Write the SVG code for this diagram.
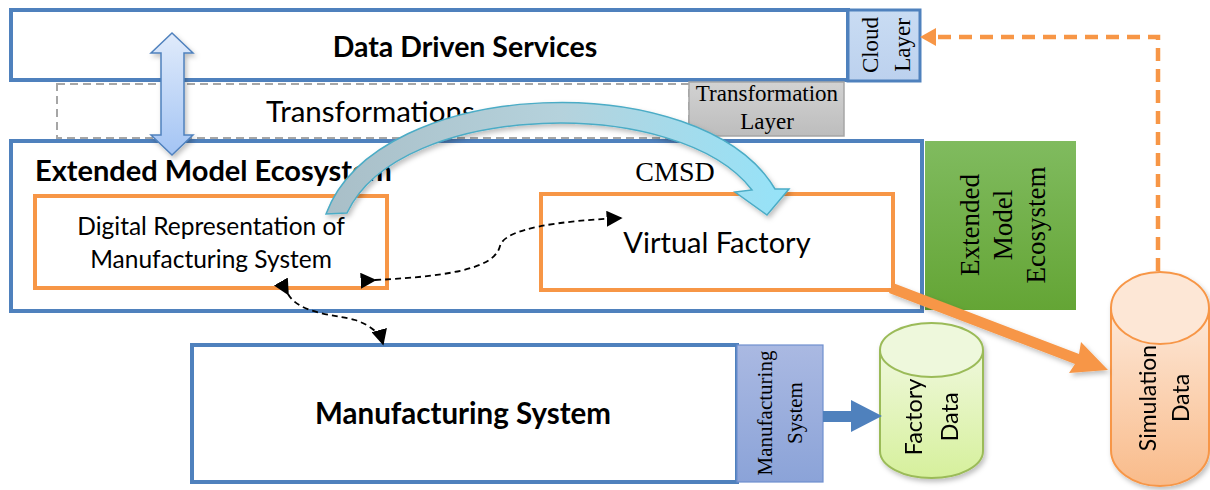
<svg xmlns="http://www.w3.org/2000/svg" width="1210" height="490" viewBox="0 0 1210 490">
  <style>
    .blue { fill: #ffffff; stroke: #4f81bd; stroke-width: 4; }
    .orange { fill: #ffffff; stroke: #f79646; stroke-width: 4; }
    .sans { font-family: Lato, "Open Sans", "Liberation Sans", sans-serif; fill: #000; }
    .serif { font-family: "Liberation Serif", "DejaVu Serif", serif; fill: #000; }
    .bold { font-weight: bold; }
    .mid { text-anchor: middle; }
    .dash { fill: none; stroke: #000; stroke-width: 1.8; stroke-dasharray: 6 4; }
  </style>
  <defs>
    <linearGradient id="gCloud" x1="0" y1="0" x2="0" y2="1">
      <stop offset="0" stop-color="#c9dcf3"/><stop offset="1" stop-color="#bcd1ee"/>
    </linearGradient>
    <linearGradient id="gGrey" x1="0" y1="0" x2="0" y2="1">
      <stop offset="0" stop-color="#d2d2d2"/><stop offset="1" stop-color="#bdbdbd"/>
    </linearGradient>
    <linearGradient id="gGreen" x1="0" y1="0" x2="0" y2="1">
      <stop offset="0" stop-color="#80bb5f"/><stop offset="1" stop-color="#64a535"/>
    </linearGradient>
    <linearGradient id="gMs" x1="0" y1="0" x2="0" y2="1">
      <stop offset="0" stop-color="#aab9e2"/><stop offset="1" stop-color="#8ba3d8"/>
    </linearGradient>
    <linearGradient id="gFactory" x1="0" y1="0" x2="0" y2="1">
      <stop offset="0" stop-color="#eff8dc"/><stop offset="1" stop-color="#d6f09c"/>
    </linearGradient>
    <linearGradient id="gSim" x1="0" y1="0" x2="0" y2="1">
      <stop offset="0" stop-color="#fde8d8"/><stop offset="1" stop-color="#f9bb8a"/>
    </linearGradient>
    <linearGradient id="gDouble" x1="0" y1="0" x2="0" y2="1">
      <stop offset="0" stop-color="#e0ebfb"/><stop offset="1" stop-color="#a3c4f4"/>
    </linearGradient>
    <linearGradient id="gCurve" gradientUnits="userSpaceOnUse" x1="330" y1="0" x2="790" y2="0">
      <stop offset="0" stop-color="#a9bfc8"/><stop offset="0.5" stop-color="#b5d2dc"/><stop offset="1" stop-color="#95e3f9"/>
    </linearGradient>
    <marker id="ahBig" viewBox="0 0 10 10" refX="9" refY="5" markerWidth="16" markerHeight="16" markerUnits="userSpaceOnUse" orient="auto">
      <path d="M0,0 L10,5 L0,10 z" fill="#000"/>
    </marker>
    <filter id="shadow" x="-20%" y="-20%" width="140%" height="140%">
      <feDropShadow dx="2" dy="3" stdDeviation="2.5" flood-color="#000" flood-opacity="0.25"/>
    </filter>
  </defs>

  <!-- top layer: services -->
  <g id="data-driven-services">
    <rect class="blue" x="11" y="10" width="837" height="70"/>
    <text class="sans bold mid" x="465" y="57" font-size="28.5">Data Driven Services</text>
  </g>
  <g id="cloud-layer">
    <rect x="848" y="10" width="72" height="71" fill="url(#gCloud)" stroke="#4f81bd" stroke-width="3"/>
    <g transform="translate(885,45) rotate(-90)">
      <text class="serif mid" x="0" y="-7" font-size="23">Cloud</text>
      <text class="serif mid" x="0" y="25" font-size="23">Layer</text>
    </g>
  </g>

  <!-- transformation layer -->
  <g id="transformations">
    <rect x="57" y="84" width="632" height="54" fill="#ffffff" stroke="#a6a6a6" stroke-width="2" stroke-dasharray="8 5"/>
    <text class="sans" x="266" y="122" font-size="29.5">Transformations</text>
  </g>
  <g id="transformation-layer">
    <rect x="689" y="82" width="155" height="54" fill="url(#gGrey)" stroke="#a6a6a6" stroke-width="1.5"/>
    <text class="serif mid" x="767" y="101" font-size="23">Transformation</text>
    <text class="serif mid" x="767" y="129" font-size="23">Layer</text>
  </g>

  <!-- extended model ecosystem -->
  <g id="extended-model-ecosystem">
    <rect class="blue" x="11" y="141" width="911" height="170"/>
    <text class="sans bold" x="35" y="181" font-size="29">Extended Model Ecosystem</text>
  </g>
  <g id="ecosystem-label">
    <rect x="925" y="141" width="151" height="169" fill="url(#gGreen)"/>
    <g transform="translate(1000,225) rotate(-90)">
      <text class="serif mid" x="0" y="-21" font-size="27">Extended</text>
      <text class="serif mid" x="0" y="12" font-size="27">Model</text>
      <text class="serif mid" x="0" y="45" font-size="27">Ecosystem</text>
    </g>
  </g>
  <g id="digital-representation">
    <rect class="orange" x="35" y="196" width="352" height="92"/>
    <text class="sans mid" x="211" y="235" font-size="24.5">Digital Representation of</text>
    <text class="sans mid" x="211" y="268" font-size="24.5">Manufacturing System</text>
  </g>
  <g id="virtual-factory">
    <rect class="orange" x="541" y="194" width="352" height="96"/>
    <text class="sans mid" x="717" y="253" font-size="29">Virtual Factory</text>
  </g>
  <g id="cmsd-label">
    <text class="serif mid" x="675" y="181" font-size="28">CMSD</text>
  </g>

  <!-- physical system -->
  <g id="manufacturing-system">
    <rect class="blue" x="192" y="345" width="545" height="137"/>
    <text class="sans bold mid" x="463" y="424" font-size="29.5">Manufacturing System</text>
  </g>
  <g id="manufacturing-system-label">
    <rect x="737" y="345" width="86" height="137" fill="url(#gMs)" stroke="#6f8fcf" stroke-width="1.2"/>
    <g transform="translate(788,413) rotate(-90)">
      <text class="serif mid" x="0" y="-16" font-size="21">Manufacturing</text>
      <text class="serif mid" x="0" y="14" font-size="21">System</text>
    </g>
  </g>

  <!-- data stores -->
  <g id="factory-data" filter="url(#shadow)">
    <path d="M880,350 L880,451 A51.5,27 0 0 0 983,451 L983,350" fill="url(#gFactory)" stroke="#9bbb59" stroke-width="2"/>
    <ellipse cx="931.5" cy="350" rx="51.5" ry="27" fill="#eef8dc" stroke="#9bbb59" stroke-width="2"/>
    <g transform="translate(933,417) rotate(-90)">
      <text class="sans mid" x="0" y="-11" font-size="23.5">Factory</text>
      <text class="sans mid" x="0" y="25" font-size="23.5">Data</text>
    </g>
  </g>
  <g id="simulation-data" filter="url(#shadow)">
    <path d="M1111,308 L1111,450 A49,36 0 0 0 1209,450 L1209,308" fill="url(#gSim)" stroke="#f79646" stroke-width="2"/>
    <ellipse cx="1160" cy="308" rx="49" ry="36" fill="#fde7d6" stroke="#f79646" stroke-width="2"/>
    <g transform="translate(1165,398) rotate(-90)">
      <text class="sans mid" x="0" y="-9" font-size="23">Simulation</text>
      <text class="sans mid" x="0" y="24" font-size="23">Data</text>
    </g>
  </g>

  <!-- connectors -->
  <g id="connectors">
    <!-- services <-> ecosystem -->
    <path d="M172,33 L193,53 L184,53 L184,135 L193,135 L172,155 L151,135 L161,135 L161,53 L151,53 Z" fill="url(#gDouble)" stroke="#4f81bd" stroke-width="1.5" filter="url(#shadow)"/>
    <!-- CMSD exchange -->
    <path d="M326,214 C378,74 702,66 775,189 L789,189 L767,215 L735,192 L752,190 C680,95 400,100 347,213 Z" fill="url(#gCurve)" stroke="#4bacc6" stroke-width="1.5" filter="url(#shadow)"/>
    <!-- representation <-> virtual factory -->
    <path class="dash" d="M375,280 C460,276 495,266 500,246 C505,228 560,221 621,218" marker-start="url(#ahBig)" marker-end="url(#ahBig)"/>
    <!-- representation <-> manufacturing system -->
    <path class="dash" d="M288,294 C300,315 340,315 355,320 C370,325 380,333 383,344" marker-start="url(#ahBig)" marker-end="url(#ahBig)"/>
    <!-- manufacturing system -> factory data -->
    <path d="M823,411 L851,411 L851,400 L882,416 L851,432 L851,422 L823,422 Z" fill="#4f81bd"/>
    <!-- virtual factory -> simulation data -->
    <path d="M893,283 L1079,354 L1081,342 L1108,370 L1069,373 L1075,364 L889,293 Z" fill="#f79646" filter="url(#shadow)"/>
    <!-- simulation data -> cloud layer -->
    <path d="M1158,271 L1158,37 L934,37" fill="none" stroke="#f79646" stroke-width="4.5" stroke-dasharray="13 8"/>
    <path d="M920,37 L936,28 L936,46 Z" fill="#f79646"/>
  </g>
</svg>
